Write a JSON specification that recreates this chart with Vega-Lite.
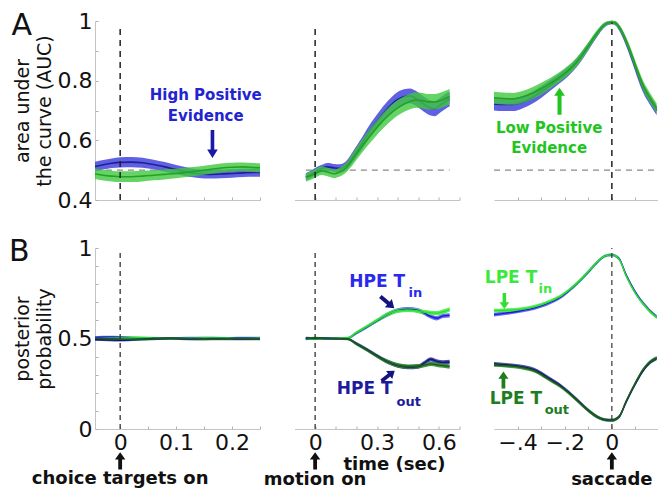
{
"$schema": "https://vega.github.io/schema/vega-lite/v6.json",
"autosize": {"type": "none"},
"padding": {"left": 95, "top": 21, "right": 563, "bottom": 474},
"background": "white",
"config": {
  "view": {"stroke": null},
  "axis": {"domainColor": "#c4c4c4", "domainWidth": 1, "tickColor": "#b0b0b0", "tickSize": -3, "tickWidth": 1, "grid": false,
    "labelFont": "DejaVu Sans", "labelFontSize": 22, "labelColor": "#111", "labelPadding": 6, "labelOverlap": false, "labelFlush": false, "labelBound": false,
    "titleFont": "DejaVu Sans", "titleFontWeight": "normal", "titleFontSize": 19, "titleColor": "#111", "titleLineHeight": 22, "titlePadding": 3}
},
"datasets": {
  "a1": [
    {"s":"HPE","t":-0.045,"v":0.512,"e":0.016},{"s":"HPE","t":-0.03,"v":0.518,"e":0.016},{"s":"HPE","t":-0.015,"v":0.523,"e":0.016},
    {"s":"HPE","t":0,"v":0.526,"e":0.017},{"s":"HPE","t":0.02,"v":0.527,"e":0.017},{"s":"HPE","t":0.04,"v":0.525,"e":0.017},
    {"s":"HPE","t":0.06,"v":0.519,"e":0.016},{"s":"HPE","t":0.08,"v":0.511,"e":0.016},{"s":"HPE","t":0.1,"v":0.502,"e":0.015},
    {"s":"HPE","t":0.12,"v":0.494,"e":0.015},{"s":"HPE","t":0.14,"v":0.488,"e":0.014},{"s":"HPE","t":0.16,"v":0.486,"e":0.014},
    {"s":"HPE","t":0.18,"v":0.487,"e":0.014},{"s":"HPE","t":0.2,"v":0.489,"e":0.014},{"s":"HPE","t":0.22,"v":0.491,"e":0.014},
    {"s":"HPE","t":0.24,"v":0.492,"e":0.014},{"s":"HPE","t":0.25,"v":0.492,"e":0.014},
    {"s":"LPE","t":-0.045,"v":0.488,"e":0.018},{"s":"LPE","t":-0.03,"v":0.483,"e":0.018},{"s":"LPE","t":-0.015,"v":0.48,"e":0.018},
    {"s":"LPE","t":0,"v":0.478,"e":0.018},{"s":"LPE","t":0.02,"v":0.478,"e":0.018},{"s":"LPE","t":0.04,"v":0.48,"e":0.018},
    {"s":"LPE","t":0.06,"v":0.483,"e":0.017},{"s":"LPE","t":0.08,"v":0.486,"e":0.017},{"s":"LPE","t":0.1,"v":0.489,"e":0.016},
    {"s":"LPE","t":0.12,"v":0.493,"e":0.016},{"s":"LPE","t":0.14,"v":0.497,"e":0.015},{"s":"LPE","t":0.16,"v":0.502,"e":0.015},
    {"s":"LPE","t":0.18,"v":0.507,"e":0.015},{"s":"LPE","t":0.2,"v":0.51,"e":0.015},{"s":"LPE","t":0.22,"v":0.511,"e":0.015},
    {"s":"LPE","t":0.24,"v":0.509,"e":0.015},{"s":"LPE","t":0.25,"v":0.508,"e":0.015}
  ],
  "a2": [
    {"s":"HPE","t":-0.045,"v":0.478,"e":0.012},{"s":"HPE","t":-0.02,"v":0.486,"e":0.012},{"s":"HPE","t":0,"v":0.495,"e":0.012},
    {"s":"HPE","t":0.03,"v":0.505,"e":0.012},{"s":"HPE","t":0.06,"v":0.511,"e":0.013},{"s":"HPE","t":0.09,"v":0.508,"e":0.013},
    {"s":"HPE","t":0.12,"v":0.506,"e":0.014},{"s":"HPE","t":0.15,"v":0.515,"e":0.015},{"s":"HPE","t":0.19,"v":0.552,"e":0.018},
    {"s":"HPE","t":0.23,"v":0.593,"e":0.02},{"s":"HPE","t":0.27,"v":0.636,"e":0.022},{"s":"HPE","t":0.31,"v":0.672,"e":0.024},
    {"s":"HPE","t":0.35,"v":0.705,"e":0.025},{"s":"HPE","t":0.39,"v":0.732,"e":0.025},{"s":"HPE","t":0.43,"v":0.746,"e":0.025},
    {"s":"HPE","t":0.46,"v":0.749,"e":0.025},{"s":"HPE","t":0.49,"v":0.74,"e":0.025},{"s":"HPE","t":0.52,"v":0.725,"e":0.025},
    {"s":"HPE","t":0.55,"v":0.711,"e":0.025},{"s":"HPE","t":0.58,"v":0.706,"e":0.025},{"s":"HPE","t":0.61,"v":0.72,"e":0.025},
    {"s":"HPE","t":0.635,"v":0.732,"e":0.025},{"s":"HPE","t":0.652,"v":0.738,"e":0.025},
    {"s":"LPE","t":-0.045,"v":0.476,"e":0.014},{"s":"LPE","t":-0.02,"v":0.482,"e":0.014},{"s":"LPE","t":0,"v":0.489,"e":0.014},
    {"s":"LPE","t":0.03,"v":0.498,"e":0.014},{"s":"LPE","t":0.06,"v":0.494,"e":0.014},{"s":"LPE","t":0.09,"v":0.488,"e":0.014},
    {"s":"LPE","t":0.12,"v":0.494,"e":0.015},{"s":"LPE","t":0.15,"v":0.508,"e":0.016},{"s":"LPE","t":0.19,"v":0.545,"e":0.02},
    {"s":"LPE","t":0.23,"v":0.583,"e":0.022},{"s":"LPE","t":0.27,"v":0.618,"e":0.024},{"s":"LPE","t":0.31,"v":0.651,"e":0.025},
    {"s":"LPE","t":0.35,"v":0.68,"e":0.026},{"s":"LPE","t":0.39,"v":0.704,"e":0.026},{"s":"LPE","t":0.43,"v":0.721,"e":0.026},
    {"s":"LPE","t":0.46,"v":0.73,"e":0.026},{"s":"LPE","t":0.49,"v":0.735,"e":0.026},{"s":"LPE","t":0.52,"v":0.733,"e":0.026},
    {"s":"LPE","t":0.55,"v":0.729,"e":0.026},{"s":"LPE","t":0.58,"v":0.729,"e":0.026},{"s":"LPE","t":0.61,"v":0.734,"e":0.026},
    {"s":"LPE","t":0.635,"v":0.741,"e":0.026},{"s":"LPE","t":0.652,"v":0.746,"e":0.026}
  ],
  "a3": [
    {"s":"HPE","t":-0.5,"v":0.722,"e":0.022},{"s":"HPE","t":-0.46,"v":0.72,"e":0.022},{"s":"HPE","t":-0.42,"v":0.72,"e":0.022},
    {"s":"HPE","t":-0.38,"v":0.728,"e":0.021},{"s":"HPE","t":-0.34,"v":0.742,"e":0.02},{"s":"HPE","t":-0.3,"v":0.762,"e":0.02},
    {"s":"HPE","t":-0.26,"v":0.785,"e":0.018},{"s":"HPE","t":-0.22,"v":0.809,"e":0.017},{"s":"HPE","t":-0.18,"v":0.835,"e":0.016},
    {"s":"HPE","t":-0.15,"v":0.86,"e":0.015},{"s":"HPE","t":-0.12,"v":0.891,"e":0.014},{"s":"HPE","t":-0.09,"v":0.926,"e":0.012},
    {"s":"HPE","t":-0.06,"v":0.96,"e":0.01},{"s":"HPE","t":-0.035,"v":0.984,"e":0.008},{"s":"HPE","t":-0.015,"v":0.993,"e":0.006},
    {"s":"HPE","t":0,"v":0.995,"e":0.006},{"s":"HPE","t":0.015,"v":0.992,"e":0.007},{"s":"HPE","t":0.035,"v":0.972,"e":0.01},
    {"s":"HPE","t":0.06,"v":0.93,"e":0.013},{"s":"HPE","t":0.085,"v":0.878,"e":0.015},{"s":"HPE","t":0.11,"v":0.822,"e":0.016},
    {"s":"HPE","t":0.135,"v":0.772,"e":0.016},{"s":"HPE","t":0.16,"v":0.738,"e":0.016},{"s":"HPE","t":0.19,"v":0.7,"e":0.016},
    {"s":"LPE","t":-0.5,"v":0.743,"e":0.02},{"s":"LPE","t":-0.46,"v":0.74,"e":0.02},{"s":"LPE","t":-0.42,"v":0.739,"e":0.02},
    {"s":"LPE","t":-0.38,"v":0.745,"e":0.02},{"s":"LPE","t":-0.34,"v":0.757,"e":0.02},{"s":"LPE","t":-0.3,"v":0.773,"e":0.02},
    {"s":"LPE","t":-0.26,"v":0.792,"e":0.018},{"s":"LPE","t":-0.22,"v":0.813,"e":0.017},{"s":"LPE","t":-0.18,"v":0.838,"e":0.016},
    {"s":"LPE","t":-0.15,"v":0.862,"e":0.015},{"s":"LPE","t":-0.12,"v":0.893,"e":0.014},{"s":"LPE","t":-0.09,"v":0.928,"e":0.012},
    {"s":"LPE","t":-0.06,"v":0.962,"e":0.01},{"s":"LPE","t":-0.035,"v":0.985,"e":0.008},{"s":"LPE","t":-0.015,"v":0.994,"e":0.006},
    {"s":"LPE","t":0,"v":0.996,"e":0.006},{"s":"LPE","t":0.015,"v":0.993,"e":0.007},{"s":"LPE","t":0.035,"v":0.975,"e":0.009},
    {"s":"LPE","t":0.06,"v":0.935,"e":0.012},{"s":"LPE","t":0.085,"v":0.885,"e":0.014},{"s":"LPE","t":0.11,"v":0.83,"e":0.015},
    {"s":"LPE","t":0.135,"v":0.78,"e":0.016},{"s":"LPE","t":0.16,"v":0.745,"e":0.016},{"s":"LPE","t":0.19,"v":0.708,"e":0.016}
  ],
  "b1": [
    {"s":"HPE Tin","t":-0.045,"v":0.506,"e":0.007},{"s":"HPE Tin","t":-0.02,"v":0.508,"e":0.007},{"s":"HPE Tin","t":0,"v":0.507,"e":0.007},
    {"s":"HPE Tin","t":0.03,"v":0.503,"e":0.007},{"s":"HPE Tin","t":0.06,"v":0.499,"e":0.007},{"s":"HPE Tin","t":0.09,"v":0.5,"e":0.007},
    {"s":"HPE Tin","t":0.12,"v":0.503,"e":0.007},{"s":"HPE Tin","t":0.15,"v":0.502,"e":0.007},{"s":"HPE Tin","t":0.18,"v":0.501,"e":0.007},
    {"s":"HPE Tin","t":0.21,"v":0.503,"e":0.007},{"s":"HPE Tin","t":0.25,"v":0.502,"e":0.007},
    {"s":"LPE Tin","t":-0.045,"v":0.499,"e":0.007},{"s":"LPE Tin","t":-0.02,"v":0.501,"e":0.007},{"s":"LPE Tin","t":0,"v":0.503,"e":0.007},
    {"s":"LPE Tin","t":0.03,"v":0.505,"e":0.007},{"s":"LPE Tin","t":0.06,"v":0.502,"e":0.007},{"s":"LPE Tin","t":0.09,"v":0.499,"e":0.007},
    {"s":"LPE Tin","t":0.12,"v":0.501,"e":0.007},{"s":"LPE Tin","t":0.15,"v":0.503,"e":0.007},{"s":"LPE Tin","t":0.18,"v":0.502,"e":0.007},
    {"s":"LPE Tin","t":0.21,"v":0.5,"e":0.007},{"s":"LPE Tin","t":0.25,"v":0.501,"e":0.007},
    {"s":"HPE Tout","t":-0.045,"v":0.494,"e":0.007},{"s":"HPE Tout","t":-0.02,"v":0.492,"e":0.007},{"s":"HPE Tout","t":0,"v":0.49,"e":0.007},
    {"s":"HPE Tout","t":0.03,"v":0.494,"e":0.007},{"s":"HPE Tout","t":0.06,"v":0.5,"e":0.007},{"s":"HPE Tout","t":0.09,"v":0.5,"e":0.007},
    {"s":"HPE Tout","t":0.12,"v":0.497,"e":0.007},{"s":"HPE Tout","t":0.15,"v":0.498,"e":0.007},{"s":"HPE Tout","t":0.18,"v":0.499,"e":0.007},
    {"s":"HPE Tout","t":0.21,"v":0.497,"e":0.007},{"s":"HPE Tout","t":0.25,"v":0.498,"e":0.007},
    {"s":"LPE Tout","t":-0.045,"v":0.501,"e":0.007},{"s":"LPE Tout","t":-0.02,"v":0.499,"e":0.007},{"s":"LPE Tout","t":0,"v":0.497,"e":0.007},
    {"s":"LPE Tout","t":0.03,"v":0.495,"e":0.007},{"s":"LPE Tout","t":0.06,"v":0.498,"e":0.007},{"s":"LPE Tout","t":0.09,"v":0.501,"e":0.007},
    {"s":"LPE Tout","t":0.12,"v":0.499,"e":0.007},{"s":"LPE Tout","t":0.15,"v":0.497,"e":0.007},{"s":"LPE Tout","t":0.18,"v":0.498,"e":0.007},
    {"s":"LPE Tout","t":0.21,"v":0.5,"e":0.007},{"s":"LPE Tout","t":0.25,"v":0.499,"e":0.007}
  ],
  "b2": [
    {"s":"HPE Tin","t":-0.045,"v":0.497,"e":0.006},{"s":"HPE Tin","t":0,"v":0.5,"e":0.006},{"s":"HPE Tin","t":0.05,"v":0.498,"e":0.006},
    {"s":"HPE Tin","t":0.1,"v":0.5,"e":0.006},{"s":"HPE Tin","t":0.158,"v":0.502,"e":0.006},{"s":"HPE Tin","t":0.2,"v":0.53,"e":0.008},
    {"s":"HPE Tin","t":0.25,"v":0.563,"e":0.009},{"s":"HPE Tin","t":0.3,"v":0.598,"e":0.01},{"s":"HPE Tin","t":0.35,"v":0.632,"e":0.012},
    {"s":"HPE Tin","t":0.4,"v":0.655,"e":0.012},{"s":"HPE Tin","t":0.45,"v":0.662,"e":0.012},{"s":"HPE Tin","t":0.5,"v":0.655,"e":0.012},
    {"s":"HPE Tin","t":0.53,"v":0.64,"e":0.012},{"s":"HPE Tin","t":0.56,"v":0.622,"e":0.012},{"s":"HPE Tin","t":0.59,"v":0.612,"e":0.012},
    {"s":"HPE Tin","t":0.62,"v":0.625,"e":0.012},{"s":"HPE Tin","t":0.652,"v":0.628,"e":0.012},
    {"s":"LPE Tin","t":-0.045,"v":0.5,"e":0.006},{"s":"LPE Tin","t":0,"v":0.497,"e":0.006},{"s":"LPE Tin","t":0.05,"v":0.5,"e":0.006},
    {"s":"LPE Tin","t":0.1,"v":0.501,"e":0.006},{"s":"LPE Tin","t":0.158,"v":0.503,"e":0.006},{"s":"LPE Tin","t":0.2,"v":0.532,"e":0.008},
    {"s":"LPE Tin","t":0.25,"v":0.565,"e":0.009},{"s":"LPE Tin","t":0.3,"v":0.6,"e":0.01},{"s":"LPE Tin","t":0.35,"v":0.633,"e":0.012},
    {"s":"LPE Tin","t":0.4,"v":0.653,"e":0.012},{"s":"LPE Tin","t":0.45,"v":0.658,"e":0.012},{"s":"LPE Tin","t":0.5,"v":0.652,"e":0.012},
    {"s":"LPE Tin","t":0.53,"v":0.645,"e":0.012},{"s":"LPE Tin","t":0.56,"v":0.642,"e":0.012},{"s":"LPE Tin","t":0.59,"v":0.64,"e":0.012},
    {"s":"LPE Tin","t":0.62,"v":0.648,"e":0.012},{"s":"LPE Tin","t":0.652,"v":0.66,"e":0.012},
    {"s":"HPE Tout","t":-0.045,"v":0.503,"e":0.006},{"s":"HPE Tout","t":0,"v":0.5,"e":0.006},{"s":"HPE Tout","t":0.05,"v":0.502,"e":0.006},
    {"s":"HPE Tout","t":0.1,"v":0.5,"e":0.006},{"s":"HPE Tout","t":0.158,"v":0.498,"e":0.006},{"s":"HPE Tout","t":0.2,"v":0.472,"e":0.008},
    {"s":"HPE Tout","t":0.25,"v":0.44,"e":0.009},{"s":"HPE Tout","t":0.3,"v":0.405,"e":0.01},{"s":"HPE Tout","t":0.35,"v":0.372,"e":0.012},
    {"s":"HPE Tout","t":0.4,"v":0.35,"e":0.012},{"s":"HPE Tout","t":0.45,"v":0.342,"e":0.012},{"s":"HPE Tout","t":0.5,"v":0.345,"e":0.012},
    {"s":"HPE Tout","t":0.53,"v":0.365,"e":0.012},{"s":"HPE Tout","t":0.56,"v":0.385,"e":0.012},{"s":"HPE Tout","t":0.59,"v":0.374,"e":0.012},
    {"s":"HPE Tout","t":0.62,"v":0.368,"e":0.012},{"s":"HPE Tout","t":0.652,"v":0.37,"e":0.012},
    {"s":"LPE Tout","t":-0.045,"v":0.5,"e":0.006},{"s":"LPE Tout","t":0,"v":0.503,"e":0.006},{"s":"LPE Tout","t":0.05,"v":0.5,"e":0.006},
    {"s":"LPE Tout","t":0.1,"v":0.499,"e":0.006},{"s":"LPE Tout","t":0.158,"v":0.497,"e":0.006},{"s":"LPE Tout","t":0.2,"v":0.47,"e":0.008},
    {"s":"LPE Tout","t":0.25,"v":0.437,"e":0.009},{"s":"LPE Tout","t":0.3,"v":0.402,"e":0.01},{"s":"LPE Tout","t":0.35,"v":0.372,"e":0.012},
    {"s":"LPE Tout","t":0.4,"v":0.352,"e":0.012},{"s":"LPE Tout","t":0.45,"v":0.345,"e":0.012},{"s":"LPE Tout","t":0.5,"v":0.347,"e":0.012},
    {"s":"LPE Tout","t":0.53,"v":0.353,"e":0.012},{"s":"LPE Tout","t":0.56,"v":0.36,"e":0.012},{"s":"LPE Tout","t":0.59,"v":0.355,"e":0.012},
    {"s":"LPE Tout","t":0.62,"v":0.35,"e":0.012},{"s":"LPE Tout","t":0.652,"v":0.345,"e":0.012}
  ],
  "b3": [
    {"s":"HPE Tin","t":-0.5,"v":0.632,"e":0.01},{"s":"HPE Tin","t":-0.45,"v":0.64,"e":0.01},{"s":"HPE Tin","t":-0.39,"v":0.652,"e":0.01},
    {"s":"HPE Tin","t":-0.33,"v":0.668,"e":0.01},{"s":"HPE Tin","t":-0.264,"v":0.698,"e":0.01},{"s":"HPE Tin","t":-0.21,"v":0.735,"e":0.01},
    {"s":"HPE Tin","t":-0.165,"v":0.783,"e":0.01},{"s":"HPE Tin","t":-0.13,"v":0.826,"e":0.01},{"s":"HPE Tin","t":-0.094,"v":0.876,"e":0.01},
    {"s":"HPE Tin","t":-0.06,"v":0.924,"e":0.009},{"s":"HPE Tin","t":-0.03,"v":0.955,"e":0.008},{"s":"HPE Tin","t":0,"v":0.962,"e":0.008},
    {"s":"HPE Tin","t":0.03,"v":0.942,"e":0.009},{"s":"HPE Tin","t":0.061,"v":0.85,"e":0.01},{"s":"HPE Tin","t":0.1,"v":0.755,"e":0.01},
    {"s":"HPE Tin","t":0.131,"v":0.698,"e":0.01},{"s":"HPE Tin","t":0.16,"v":0.655,"e":0.01},{"s":"HPE Tin","t":0.19,"v":0.62,"e":0.01},
    {"s":"LPE Tin","t":-0.5,"v":0.654,"e":0.01},{"s":"LPE Tin","t":-0.45,"v":0.656,"e":0.01},{"s":"LPE Tin","t":-0.39,"v":0.661,"e":0.01},
    {"s":"LPE Tin","t":-0.33,"v":0.675,"e":0.01},{"s":"LPE Tin","t":-0.264,"v":0.704,"e":0.01},{"s":"LPE Tin","t":-0.21,"v":0.74,"e":0.01},
    {"s":"LPE Tin","t":-0.165,"v":0.786,"e":0.01},{"s":"LPE Tin","t":-0.13,"v":0.828,"e":0.01},{"s":"LPE Tin","t":-0.094,"v":0.878,"e":0.01},
    {"s":"LPE Tin","t":-0.06,"v":0.925,"e":0.009},{"s":"LPE Tin","t":-0.03,"v":0.955,"e":0.008},{"s":"LPE Tin","t":0,"v":0.962,"e":0.008},
    {"s":"LPE Tin","t":0.03,"v":0.94,"e":0.009},{"s":"LPE Tin","t":0.061,"v":0.845,"e":0.01},{"s":"LPE Tin","t":0.1,"v":0.75,"e":0.01},
    {"s":"LPE Tin","t":0.131,"v":0.695,"e":0.01},{"s":"LPE Tin","t":0.16,"v":0.652,"e":0.01},{"s":"LPE Tin","t":0.19,"v":0.617,"e":0.01},
    {"s":"HPE Tout","t":-0.5,"v":0.36,"e":0.01},{"s":"HPE Tout","t":-0.45,"v":0.355,"e":0.01},{"s":"HPE Tout","t":-0.39,"v":0.346,"e":0.01},
    {"s":"HPE Tout","t":-0.33,"v":0.328,"e":0.01},{"s":"HPE Tout","t":-0.264,"v":0.278,"e":0.01},{"s":"HPE Tout","t":-0.21,"v":0.232,"e":0.01},
    {"s":"HPE Tout","t":-0.165,"v":0.182,"e":0.01},{"s":"HPE Tout","t":-0.13,"v":0.139,"e":0.01},{"s":"HPE Tout","t":-0.094,"v":0.097,"e":0.01},
    {"s":"HPE Tout","t":-0.06,"v":0.066,"e":0.009},{"s":"HPE Tout","t":-0.03,"v":0.051,"e":0.008},{"s":"HPE Tout","t":0,"v":0.048,"e":0.008},
    {"s":"HPE Tout","t":0.03,"v":0.066,"e":0.009},{"s":"HPE Tout","t":0.061,"v":0.15,"e":0.01},{"s":"HPE Tout","t":0.1,"v":0.25,"e":0.01},
    {"s":"HPE Tout","t":0.131,"v":0.32,"e":0.01},{"s":"HPE Tout","t":0.16,"v":0.365,"e":0.01},{"s":"HPE Tout","t":0.19,"v":0.39,"e":0.01},
    {"s":"LPE Tout","t":-0.5,"v":0.354,"e":0.01},{"s":"LPE Tout","t":-0.45,"v":0.35,"e":0.01},{"s":"LPE Tout","t":-0.39,"v":0.342,"e":0.01},
    {"s":"LPE Tout","t":-0.33,"v":0.322,"e":0.01},{"s":"LPE Tout","t":-0.264,"v":0.272,"e":0.01},{"s":"LPE Tout","t":-0.21,"v":0.228,"e":0.01},
    {"s":"LPE Tout","t":-0.165,"v":0.179,"e":0.01},{"s":"LPE Tout","t":-0.13,"v":0.137,"e":0.01},{"s":"LPE Tout","t":-0.094,"v":0.096,"e":0.01},
    {"s":"LPE Tout","t":-0.06,"v":0.066,"e":0.009},{"s":"LPE Tout","t":-0.03,"v":0.052,"e":0.008},{"s":"LPE Tout","t":0,"v":0.048,"e":0.008},
    {"s":"LPE Tout","t":0.03,"v":0.068,"e":0.009},{"s":"LPE Tout","t":0.061,"v":0.155,"e":0.01},{"s":"LPE Tout","t":0.1,"v":0.255,"e":0.01},
    {"s":"LPE Tout","t":0.131,"v":0.325,"e":0.01},{"s":"LPE Tout","t":0.16,"v":0.368,"e":0.01},{"s":"LPE Tout","t":0.19,"v":0.392,"e":0.01}
  ],
  "na1": [{"k":"lab","t":0.153,"v":0.752,"txt":"High Positive"},{"k":"lab","t":0.153,"v":0.682,"txt":"Evidence"},{"k":"arr","t":0.165,"v":0.588}],
  "na3": [{"k":"lab","t":-0.266,"v":0.643,"txt":"Low Positive"},{"k":"lab","t":-0.266,"v":0.574,"txt":"Evidence"},{"k":"arr","t":-0.222,"v":0.731}],
  "nb1": [{"k":"bot","t":0,"v":-0.276,"txt":"choice targets on"},{"k":"barr","t":0,"v":-0.176}],
  "nb2": [{"k":"bot","t":0,"v":-0.282,"txt":"motion on"},{"k":"bot","t":0.385,"v":-0.2,"txt":"time (sec)"},{"k":"barr","t":0,"v":-0.176},
          {"k":"in","t":0.166,"v":0.814,"txt":"HPE T"},{"k":"insub","t":0.453,"v":0.754,"txt":"in"},
          {"k":"out","t":0.105,"v":0.221,"txt":"HPE T"},{"k":"outsub","t":0.395,"v":0.151,"txt":"out"},
          {"k":"inarr","t":0.35,"v":0.7},{"k":"outarr","t":0.354,"v":0.294}],
  "nb3": [{"k":"bot","t":0,"v":-0.282,"txt":"saccade"},{"k":"barr","t":0,"v":-0.176},
          {"k":"in","t":-0.539,"v":0.834,"txt":"LPE T"},{"k":"insub","t":-0.311,"v":0.773,"txt":"in"},
          {"k":"out","t":-0.518,"v":0.166,"txt":"LPE T"},{"k":"outsub","t":-0.285,"v":0.105,"txt":"out"},
          {"k":"inarr","t":-0.456,"v":0.707},{"k":"outarr","t":-0.46,"v":0.271}]
},
"columns": 3,
"spacing": {"row": 48, "column": 34.5},
"bounds": "flush",
"align": "each",
"concat": [
 {
  "width": 165, "height": 179,
  "title": {"text": "A", "anchor": "start", "frame": "group", "orient": "top", "offset": 0, "dx": -83.5, "dy": 55, "baseline": "alphabetic", "font": "DejaVu Sans", "fontSize": 30, "fontWeight": "normal", "color": "#111"},
  "encoding": {
   "x": {"field": "t", "type": "quantitative", "scale": {"domain": [-0.045, 0.25], "nice": false, "zero": false}, "axis": {"values": [0, 0.05, 0.1, 0.15, 0.2, 0.25], "labels": false, "title": null}},
   "y": {"field": "v", "type": "quantitative", "scale": {"domain": [0.4, 1], "nice": false, "zero": false}, "axis": {"values": [0.4, 0.5, 0.6, 0.7, 0.8, 0.9, 1], "labelExpr": "datum.value > 0.99 ? '1' : (round(datum.value * 10) % 2 == 0 ? format(datum.value, '.1f') : '')", "title": ["area under", "the curve (AUC)"]}}
  },
  "layer": [
   {"data": {"values": [{"t": -0.045, "t2": 0.25, "v": 0.5}]}, "mark": {"type": "rule", "color": "#8a8a8a", "strokeDash": [6, 5], "strokeWidth": 1.3}, "encoding": {"x2": {"field": "t2"}}},
   {"data": {"name": "a1"}, "transform": [{"filter": "datum.s == 'HPE'"}], "mark": {"type": "errorband", "interpolate": "monotone", "band": {"opacity": 0.9}}, "encoding": {"yError": {"field": "e"}, "color": {"field": "s", "type": "nominal", "legend": null, "scale": {"domain": ["HPE","LPE","HPE Tin","LPE Tin","HPE Tout","LPE Tout"], "range": ["#4f4fe0","#3ec83e","#5a5af2","#48ec48","#3a3aa8","#2f8a2f"]}}}},
   {"data": {"name": "a1"}, "transform": [{"filter": "datum.s == 'HPE'"}], "mark": {"type": "line", "interpolate": "monotone", "strokeWidth": 1.6}, "encoding": {"stroke": {"field": "s", "type": "nominal", "legend": null, "scale": {"domain": ["HPE","LPE","HPE Tin","LPE Tin","HPE Tout","LPE Tout"], "range": ["#1f1f96","#24a024","#1b1be0","#2ee02e","#15156e","#1b5c1b"]}}}},
   {"data": {"name": "a1"}, "transform": [{"filter": "datum.s == 'LPE'"}], "mark": {"type": "errorband", "interpolate": "monotone", "band": {"opacity": 0.8}}, "encoding": {"yError": {"field": "e"}, "color": {"field": "s", "type": "nominal", "legend": null, "scale": {"domain": ["HPE","LPE","HPE Tin","LPE Tin","HPE Tout","LPE Tout"], "range": ["#4f4fe0","#3ec83e","#5a5af2","#48ec48","#3a3aa8","#2f8a2f"]}}}},
   {"data": {"name": "a1"}, "transform": [{"filter": "datum.s == 'LPE'"}], "mark": {"type": "line", "interpolate": "monotone", "strokeWidth": 1.6}, "encoding": {"stroke": {"field": "s", "type": "nominal", "legend": null, "scale": {"domain": ["HPE","LPE","HPE Tin","LPE Tin","HPE Tout","LPE Tout"], "range": ["#1f1f96","#24a024","#1b1be0","#2ee02e","#15156e","#1b5c1b"]}}}},
   {"data": {"values": [{"t": 0, "v": 0.4, "v2": 0.99}]}, "mark": {"type": "rule", "color": "#222", "strokeDash": [6, 5], "strokeWidth": 1.5}, "encoding": {"y2": {"field": "v2"}}},
   {"data": {"name": "na1"}, "transform": [{"filter": "datum.k == 'lab'"}], "mark": {"type": "text", "font": "DejaVu Sans", "fontWeight": "bold", "fontSize": 15, "color": "#2323d0", "align": "center", "baseline": "middle"}, "encoding": {"text": {"field": "txt"}}},
   {"data": {"name": "na1"}, "transform": [{"filter": "datum.k == 'arr'"}], "mark": {"type": "point", "shape": "M-0.13,-1L0.13,-1L0.13,0.4L0.38,0.4L0,1L-0.38,0.4L-0.13,0.4Z", "size": 784, "filled": true, "opacity": 1, "color": "#1a1aa8", "strokeWidth": 0}}
  ]
 },
 {
  "width": 165, "height": 179,
  "encoding": {
   "x": {"field": "t", "type": "quantitative", "scale": {"domain": [-0.1, 0.7], "nice": false, "zero": false}, "axis": {"values": [0, 0.1, 0.2, 0.3, 0.4, 0.5, 0.6, 0.7], "labels": false, "title": null}},
   "y": {"field": "v", "type": "quantitative", "scale": {"domain": [0.4, 1], "nice": false, "zero": false}, "axis": null}
  },
  "layer": [
   {"data": {"values": [{"t": -0.045, "t2": 0.652, "v": 0.5}]}, "mark": {"type": "rule", "color": "#8a8a8a", "strokeDash": [6, 5], "strokeWidth": 1.3}, "encoding": {"x2": {"field": "t2"}}},
   {"data": {"name": "a2"}, "transform": [{"filter": "datum.s == 'HPE'"}], "mark": {"type": "errorband", "interpolate": "monotone", "band": {"opacity": 0.9}}, "encoding": {"yError": {"field": "e"}, "color": {"field": "s", "type": "nominal", "legend": null, "scale": {"domain": ["HPE","LPE","HPE Tin","LPE Tin","HPE Tout","LPE Tout"], "range": ["#4f4fe0","#3ec83e","#5a5af2","#48ec48","#3a3aa8","#2f8a2f"]}}}},
   {"data": {"name": "a2"}, "transform": [{"filter": "datum.s == 'HPE'"}], "mark": {"type": "line", "interpolate": "monotone", "strokeWidth": 1.6}, "encoding": {"stroke": {"field": "s", "type": "nominal", "legend": null, "scale": {"domain": ["HPE","LPE","HPE Tin","LPE Tin","HPE Tout","LPE Tout"], "range": ["#1f1f96","#24a024","#1b1be0","#2ee02e","#15156e","#1b5c1b"]}}}},
   {"data": {"name": "a2"}, "transform": [{"filter": "datum.s == 'LPE'"}], "mark": {"type": "errorband", "interpolate": "monotone", "band": {"opacity": 0.8}}, "encoding": {"yError": {"field": "e"}, "color": {"field": "s", "type": "nominal", "legend": null, "scale": {"domain": ["HPE","LPE","HPE Tin","LPE Tin","HPE Tout","LPE Tout"], "range": ["#4f4fe0","#3ec83e","#5a5af2","#48ec48","#3a3aa8","#2f8a2f"]}}}},
   {"data": {"name": "a2"}, "transform": [{"filter": "datum.s == 'LPE'"}], "mark": {"type": "line", "interpolate": "monotone", "strokeWidth": 1.6}, "encoding": {"stroke": {"field": "s", "type": "nominal", "legend": null, "scale": {"domain": ["HPE","LPE","HPE Tin","LPE Tin","HPE Tout","LPE Tout"], "range": ["#1f1f96","#24a024","#1b1be0","#2ee02e","#15156e","#1b5c1b"]}}}},
   {"data": {"values": [{"t": 0, "v": 0.4, "v2": 0.99}]}, "mark": {"type": "rule", "color": "#222", "strokeDash": [6, 5], "strokeWidth": 1.5}, "encoding": {"y2": {"field": "v2"}}}
  ]
 },
 {
  "width": 165, "height": 179,
  "encoding": {
   "x": {"field": "t", "type": "quantitative", "scale": {"domain": [-0.5, 0.2], "nice": false, "zero": false}, "axis": {"values": [-0.4, -0.3, -0.2, -0.1, 0, 0.1], "labels": false, "title": null}},
   "y": {"field": "v", "type": "quantitative", "scale": {"domain": [0.4, 1], "nice": false, "zero": false}, "axis": null}
  },
  "layer": [
   {"data": {"values": [{"t": -0.5, "t2": 0.2, "v": 0.5}]}, "mark": {"type": "rule", "color": "#8a8a8a", "strokeDash": [6, 5], "strokeWidth": 1.3}, "encoding": {"x2": {"field": "t2"}}},
   {"data": {"name": "a3"}, "transform": [{"filter": "datum.s == 'HPE'"}], "mark": {"type": "errorband", "interpolate": "monotone", "band": {"opacity": 0.9}}, "encoding": {"yError": {"field": "e"}, "color": {"field": "s", "type": "nominal", "legend": null, "scale": {"domain": ["HPE","LPE","HPE Tin","LPE Tin","HPE Tout","LPE Tout"], "range": ["#4f4fe0","#3ec83e","#5a5af2","#48ec48","#3a3aa8","#2f8a2f"]}}}},
   {"data": {"name": "a3"}, "transform": [{"filter": "datum.s == 'HPE'"}], "mark": {"type": "line", "interpolate": "monotone", "strokeWidth": 1.6}, "encoding": {"stroke": {"field": "s", "type": "nominal", "legend": null, "scale": {"domain": ["HPE","LPE","HPE Tin","LPE Tin","HPE Tout","LPE Tout"], "range": ["#1f1f96","#24a024","#1b1be0","#2ee02e","#15156e","#1b5c1b"]}}}},
   {"data": {"name": "a3"}, "transform": [{"filter": "datum.s == 'LPE'"}], "mark": {"type": "errorband", "interpolate": "monotone", "band": {"opacity": 0.8}}, "encoding": {"yError": {"field": "e"}, "color": {"field": "s", "type": "nominal", "legend": null, "scale": {"domain": ["HPE","LPE","HPE Tin","LPE Tin","HPE Tout","LPE Tout"], "range": ["#4f4fe0","#3ec83e","#5a5af2","#48ec48","#3a3aa8","#2f8a2f"]}}}},
   {"data": {"name": "a3"}, "transform": [{"filter": "datum.s == 'LPE'"}], "mark": {"type": "line", "interpolate": "monotone", "strokeWidth": 1.6}, "encoding": {"stroke": {"field": "s", "type": "nominal", "legend": null, "scale": {"domain": ["HPE","LPE","HPE Tin","LPE Tin","HPE Tout","LPE Tout"], "range": ["#1f1f96","#24a024","#1b1be0","#2ee02e","#15156e","#1b5c1b"]}}}},
   {"data": {"values": [{"t": 0, "v": 0.4, "v2": 0.995}]}, "mark": {"type": "rule", "color": "#222", "strokeDash": [6, 5], "strokeWidth": 1.5}, "encoding": {"y2": {"field": "v2"}}},
   {"data": {"name": "na3"}, "transform": [{"filter": "datum.k == 'lab'"}], "mark": {"type": "text", "font": "DejaVu Sans", "fontWeight": "bold", "fontSize": 15, "color": "#22c422", "align": "center", "baseline": "middle"}, "encoding": {"text": {"field": "txt"}}},
   {"data": {"name": "na3"}, "transform": [{"filter": "datum.k == 'arr'"}], "mark": {"type": "point", "shape": "M-0.15,1L0.15,1L0.15,-0.4L0.4,-0.4L0,-1L-0.4,-0.4L-0.15,-0.4Z", "size": 729, "filled": true, "opacity": 1, "color": "#22c422", "strokeWidth": 0}}
  ]
 },
 {
  "width": 165, "height": 181,
  "title": {"text": "B", "anchor": "start", "frame": "group", "orient": "top", "offset": 0, "dx": -86, "dy": 54, "baseline": "alphabetic", "font": "DejaVu Sans", "fontSize": 30, "fontWeight": "normal", "color": "#111"},
  "encoding": {
   "x": {"field": "t", "type": "quantitative", "scale": {"domain": [-0.045, 0.25], "nice": false, "zero": false}, "axis": {"values": [0, 0.05, 0.1, 0.15, 0.2, 0.25], "labelExpr": "datum.value == 0 ? '0' : (datum.value == 0.1 ? '0.1' : (datum.value == 0.2 ? '0.2' : ''))", "title": null}},
   "y": {"field": "v", "type": "quantitative", "scale": {"domain": [0, 1], "nice": false, "zero": false}, "axis": {"values": [0, 0.1, 0.2, 0.3, 0.4, 0.5, 0.6, 0.7, 0.8, 0.9, 1], "labelExpr": "datum.value == 0 ? '0' : (datum.value == 0.5 ? '0.5' : (datum.value == 1 ? '1' : ''))", "title": ["posterior", "probability"]}}
  },
  "layer": [
   {"data": {"name": "b1"}, "mark": {"type": "errorband", "interpolate": "monotone", "band": {"opacity": 0.9}}, "encoding": {"yError": {"field": "e"}, "color": {"field": "s", "type": "nominal", "legend": null, "scale": {"domain": ["HPE","LPE","HPE Tin","LPE Tin","HPE Tout","LPE Tout"], "range": ["#4f4fe0","#3ec83e","#5a5af2","#48ec48","#3a3aa8","#2f8a2f"]}}}},
   {"data": {"name": "b1"}, "mark": {"type": "line", "interpolate": "monotone", "strokeWidth": 1.4}, "encoding": {"stroke": {"field": "s", "type": "nominal", "legend": null, "scale": {"domain": ["HPE","LPE","HPE Tin","LPE Tin","HPE Tout","LPE Tout"], "range": ["#1f1f96","#24a024","#1b1be0","#2ee02e","#15156e","#1b5c1b"]}}}},
   {"data": {"values": [{"t": 0, "v": 0, "v2": 0.98}]}, "mark": {"type": "rule", "color": "#333", "strokeDash": [5, 4], "strokeWidth": 1.3}, "encoding": {"y2": {"field": "v2"}}},
   {"data": {"name": "nb1"}, "transform": [{"filter": "datum.k == 'bot'"}], "mark": {"type": "text", "font": "DejaVu Sans", "fontWeight": "bold", "fontSize": 18, "color": "#111", "align": "center", "baseline": "middle"}, "encoding": {"text": {"field": "txt"}}},
   {"data": {"name": "nb1"}, "transform": [{"filter": "datum.k == 'barr'"}], "mark": {"type": "point", "shape": "M-0.22,1L0.22,1L0.22,-0.15L0.6,-0.15L0,-1L-0.6,-0.15L-0.22,-0.15Z", "size": 300, "filled": true, "opacity": 1, "color": "#111", "strokeWidth": 0}}
  ]
 },
 {
  "width": 165, "height": 181,
  "encoding": {
   "x": {"field": "t", "type": "quantitative", "scale": {"domain": [-0.1, 0.7], "nice": false, "zero": false}, "axis": {"values": [0, 0.1, 0.2, 0.3, 0.4, 0.5, 0.6, 0.7], "labelExpr": "datum.value == 0 ? '0' : (datum.value == 0.3 ? '0.3' : (datum.value == 0.6 ? '0.6' : ''))", "title": null}},
   "y": {"field": "v", "type": "quantitative", "scale": {"domain": [0, 1], "nice": false, "zero": false}, "axis": null}
  },
  "layer": [
   {"data": {"name": "b2"}, "mark": {"type": "errorband", "interpolate": "monotone", "band": {"opacity": 0.9}}, "encoding": {"yError": {"field": "e"}, "color": {"field": "s", "type": "nominal", "legend": null, "scale": {"domain": ["HPE","LPE","HPE Tin","LPE Tin","HPE Tout","LPE Tout"], "range": ["#4f4fe0","#3ec83e","#5a5af2","#48ec48","#3a3aa8","#2f8a2f"]}}}},
   {"data": {"name": "b2"}, "mark": {"type": "line", "interpolate": "monotone", "strokeWidth": 1.4}, "encoding": {"stroke": {"field": "s", "type": "nominal", "legend": null, "scale": {"domain": ["HPE","LPE","HPE Tin","LPE Tin","HPE Tout","LPE Tout"], "range": ["#1f1f96","#24a024","#1b1be0","#2ee02e","#15156e","#1b5c1b"]}}}},
   {"data": {"values": [{"t": 0, "v": 0, "v2": 0.99}]}, "mark": {"type": "rule", "color": "#333", "strokeDash": [5, 4], "strokeWidth": 1.3}, "encoding": {"y2": {"field": "v2"}}},
   {"data": {"name": "nb2"}, "transform": [{"filter": "datum.k == 'bot'"}], "mark": {"type": "text", "font": "DejaVu Sans", "fontWeight": "bold", "fontSize": 18, "color": "#111", "align": "center", "baseline": "middle"}, "encoding": {"text": {"field": "txt"}}},
   {"data": {"name": "nb2"}, "transform": [{"filter": "datum.k == 'barr'"}], "mark": {"type": "point", "shape": "M-0.22,1L0.22,1L0.22,-0.15L0.6,-0.15L0,-1L-0.6,-0.15L-0.22,-0.15Z", "size": 300, "filled": true, "opacity": 1, "color": "#111", "strokeWidth": 0}},
   {"data": {"name": "nb2"}, "transform": [{"filter": "datum.k == 'in'"}], "mark": {"type": "text", "font": "DejaVu Sans", "fontWeight": "bold", "fontSize": 17, "color": "#2a2aee", "align": "left", "baseline": "middle"}, "encoding": {"text": {"field": "txt"}}},
   {"data": {"name": "nb2"}, "transform": [{"filter": "datum.k == 'insub'"}], "mark": {"type": "text", "font": "DejaVu Sans", "fontWeight": "bold", "fontSize": 13, "color": "#2a2aee", "align": "left", "baseline": "middle"}, "encoding": {"text": {"field": "txt"}}},
   {"data": {"name": "nb2"}, "transform": [{"filter": "datum.k == 'out'"}], "mark": {"type": "text", "font": "DejaVu Sans", "fontWeight": "bold", "fontSize": 17, "color": "#1c1c9c", "align": "left", "baseline": "middle"}, "encoding": {"text": {"field": "txt"}}},
   {"data": {"name": "nb2"}, "transform": [{"filter": "datum.k == 'outsub'"}], "mark": {"type": "text", "font": "DejaVu Sans", "fontWeight": "bold", "fontSize": 13, "color": "#1c1c9c", "align": "left", "baseline": "middle"}, "encoding": {"text": {"field": "txt"}}},
   {"data": {"name": "nb2"}, "transform": [{"filter": "datum.k == 'inarr'"}], "mark": {"type": "point", "shape": "M-0.22,1L0.22,1L0.22,-0.15L0.6,-0.15L0,-1L-0.6,-0.15L-0.22,-0.15Z", "size": 330, "angle": 130, "filled": true, "opacity": 1, "color": "#141480", "strokeWidth": 0}},
   {"data": {"name": "nb2"}, "transform": [{"filter": "datum.k == 'outarr'"}], "mark": {"type": "point", "shape": "M-0.22,1L0.22,1L0.22,-0.15L0.6,-0.15L0,-1L-0.6,-0.15L-0.22,-0.15Z", "size": 280, "angle": 52, "filled": true, "opacity": 1, "color": "#141480", "strokeWidth": 0}}
  ]
 },
 {
  "width": 165, "height": 181,
  "encoding": {
   "x": {"field": "t", "type": "quantitative", "scale": {"domain": [-0.5, 0.2], "nice": false, "zero": false}, "axis": {"values": [-0.4, -0.3, -0.2, -0.1, 0, 0.1], "labelExpr": "datum.value == 0 ? '0' : (datum.value == -0.4 ? '−.4' : (datum.value == -0.2 ? '−.2' : ''))", "title": null}},
   "y": {"field": "v", "type": "quantitative", "scale": {"domain": [0, 1], "nice": false, "zero": false}, "axis": null}
  },
  "layer": [
   {"data": {"name": "b3"}, "mark": {"type": "errorband", "interpolate": "monotone", "band": {"opacity": 0.9}}, "encoding": {"yError": {"field": "e"}, "color": {"field": "s", "type": "nominal", "legend": null, "scale": {"domain": ["HPE","LPE","HPE Tin","LPE Tin","HPE Tout","LPE Tout"], "range": ["#4f4fe0","#3ec83e","#5a5af2","#48ec48","#3a3aa8","#2f8a2f"]}}}},
   {"data": {"name": "b3"}, "mark": {"type": "line", "interpolate": "monotone", "strokeWidth": 1.4}, "encoding": {"stroke": {"field": "s", "type": "nominal", "legend": null, "scale": {"domain": ["HPE","LPE","HPE Tin","LPE Tin","HPE Tout","LPE Tout"], "range": ["#1f1f96","#24a024","#1b1be0","#2ee02e","#15156e","#1b5c1b"]}}}},
   {"data": {"values": [{"t": 0, "v": 0, "v2": 1}]}, "mark": {"type": "rule", "color": "#333", "strokeDash": [5, 4], "strokeWidth": 1.2}, "encoding": {"y2": {"field": "v2"}}},
   {"data": {"name": "nb3"}, "transform": [{"filter": "datum.k == 'bot'"}], "mark": {"type": "text", "font": "DejaVu Sans", "fontWeight": "bold", "fontSize": 18, "color": "#111", "align": "center", "baseline": "middle"}, "encoding": {"text": {"field": "txt"}}},
   {"data": {"name": "nb3"}, "transform": [{"filter": "datum.k == 'barr'"}], "mark": {"type": "point", "shape": "M-0.22,1L0.22,1L0.22,-0.15L0.6,-0.15L0,-1L-0.6,-0.15L-0.22,-0.15Z", "size": 300, "filled": true, "opacity": 1, "color": "#111", "strokeWidth": 0}},
   {"data": {"name": "nb3"}, "transform": [{"filter": "datum.k == 'in'"}], "mark": {"type": "text", "font": "DejaVu Sans", "fontWeight": "bold", "fontSize": 17, "color": "#3ce83c", "align": "left", "baseline": "middle"}, "encoding": {"text": {"field": "txt"}}},
   {"data": {"name": "nb3"}, "transform": [{"filter": "datum.k == 'insub'"}], "mark": {"type": "text", "font": "DejaVu Sans", "fontWeight": "bold", "fontSize": 13, "color": "#3ce83c", "align": "left", "baseline": "middle"}, "encoding": {"text": {"field": "txt"}}},
   {"data": {"name": "nb3"}, "transform": [{"filter": "datum.k == 'out'"}], "mark": {"type": "text", "font": "DejaVu Sans", "fontWeight": "bold", "fontSize": 17, "color": "#1e7d1e", "align": "left", "baseline": "middle"}, "encoding": {"text": {"field": "txt"}}},
   {"data": {"name": "nb3"}, "transform": [{"filter": "datum.k == 'outsub'"}], "mark": {"type": "text", "font": "DejaVu Sans", "fontWeight": "bold", "fontSize": 13, "color": "#1e7d1e", "align": "left", "baseline": "middle"}, "encoding": {"text": {"field": "txt"}}},
   {"data": {"name": "nb3"}, "transform": [{"filter": "datum.k == 'inarr'"}], "mark": {"type": "point", "shape": "M-0.22,-1L0.22,-1L0.22,0.15L0.6,0.15L0,1L-0.6,0.15L-0.22,0.15Z", "size": 256, "filled": true, "opacity": 1, "color": "#33dd33", "strokeWidth": 0}},
   {"data": {"name": "nb3"}, "transform": [{"filter": "datum.k == 'outarr'"}], "mark": {"type": "point", "shape": "M-0.22,1L0.22,1L0.22,-0.15L0.6,-0.15L0,-1L-0.6,-0.15L-0.22,-0.15Z", "size": 289, "filled": true, "opacity": 1, "color": "#1e7d1e", "strokeWidth": 0}}
  ]
 }
]
}
